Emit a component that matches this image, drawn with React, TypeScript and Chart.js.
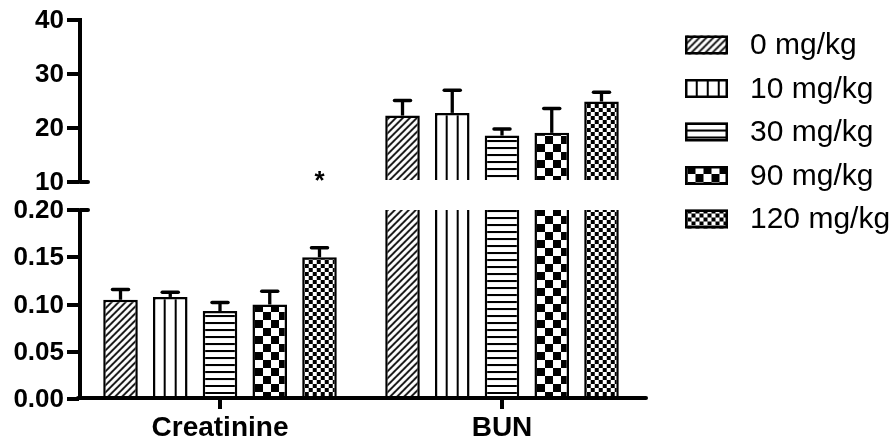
import { useEffect, useRef } from 'react';
import { Chart, registerables } from 'chart.js';

Chart.register(...registerables);

// Parameters on the x axis
const CATEGORIES = ['Creatinine', 'BUN'];
// Dose groups, one bar per dose in every parameter
const DOSES = ['0 mg/kg', '10 mg/kg', '30 mg/kg', '90 mg/kg', '120 mg/kg'];
// Serum creatinine: mean and error per dose
const CREATININE = [0.105, 0.108, 0.093, 0.1, 0.15];
const CREATININE_ERR = [0.011, 0.005, 0.009, 0.014, 0.01];
// Blood urea nitrogen: mean and error per dose
const BUN = [22.3, 22.8, 18.6, 19.1, 24.9];
const BUN_ERR = [2.8, 4.2, 1.2, 4.5, 1.7];
// Ticks of the two segments of the broken y axis
const LOWER_TICKS = [0, 0.05, 0.1, 0.15, 0.2];
const UPPER_TICKS = [10, 20, 30, 40];
// Significance marks: parameter index, dose index, symbol
const SIGNIFICANCE = [{ category: 0, dose: 4, mark: '*' }];

// ---- styling / layout ----
const FONT = "'Liberation Sans', Arial, Helvetica, sans-serif";
const FILLS = ['diagonal', 'vertical', 'horizontal', 'checker', 'fineChecker'];
const BORDER = 2.5;
const AXIS_W = 4;
const UPPER_PX = 162; // height of the 10..40 segment
const LOWER_PX = 189; // height of the 0..0.20 segment
const GAP_PX = 28; // empty band at the axis break

const LOWER_MIN = LOWER_TICKS[0];
const LOWER_TOP = LOWER_TICKS[LOWER_TICKS.length - 1];
const UPPER_BASE = UPPER_TICKS[0];
const UPPER_MAX = UPPER_TICKS[UPPER_TICKS.length - 1];
const UPPER_MIN = UPPER_BASE - ((UPPER_MAX - UPPER_BASE) * (GAP_PX / 2)) / UPPER_PX;
const LOWER_MAX = LOWER_TOP + ((LOWER_TOP - LOWER_MIN) * (GAP_PX / 2)) / LOWER_PX;

const tileCache: Record<string, HTMLCanvasElement> = {};

function makeTile(kind: string): HTMLCanvasElement {
  const cached = tileCache[kind];
  if (cached) return cached;
  const c = document.createElement('canvas');
  const g = c.getContext('2d') as CanvasRenderingContext2D;
  const size = (w: number, h: number) => {
    c.width = w;
    c.height = h;
    g.fillStyle = '#fff';
    g.fillRect(0, 0, w, h);
    g.fillStyle = '#000';
  };
  if (kind === 'diagonal') {
    const s = 7;
    size(s, s);
    g.strokeStyle = '#000';
    g.lineWidth = 1.8;
    g.beginPath();
    for (const o of [-s, 0, s]) {
      g.moveTo(o - 1, s + 1);
      g.lineTo(o + s + 1, -1);
    }
    g.stroke();
  } else if (kind === 'vertical') {
    size(11, 4);
    g.fillRect(0, 0, 2, 4);
  } else if (kind === 'horizontal') {
    size(4, 7);
    g.fillRect(0, 0, 4, 2);
  } else if (kind === 'checker') {
    size(16, 16);
    g.fillRect(0, 0, 8, 8);
    g.fillRect(8, 8, 8, 8);
  } else {
    size(8, 8);
    g.fillRect(0, 0, 4, 4);
    g.fillRect(4, 4, 4, 4);
  }
  tileCache[kind] = c;
  return c;
}

// Pattern anchored at the left edge of the box it fills
function patternAt(g: CanvasRenderingContext2D, kind: string, left: number, top: number) {
  const p = g.createPattern(makeTile(kind), 'repeat') as CanvasPattern;
  const dx = kind === 'vertical' ? left + 10.7 : left + BORDER;
  p.setTransform(new DOMMatrix([1, 0, 0, 1, dx, top]));
  return p;
}

function barFill(c: any, kind: string) {
  const el = c.element;
  const left = el && Number.isFinite(el.x) && Number.isFinite(el.width) ? el.x - el.width / 2 : 0;
  return patternAt(c.chart.ctx, kind, left, 0);
}

const lowerSets = DOSES.map((dose, i) => ({
  label: dose,
  data: [CREATININE[i], Math.min(BUN[i], LOWER_TOP)],
  yAxisID: 'yLow',
  stack: 'dose' + i,
  backgroundColor: (c: any) => barFill(c, FILLS[i]),
  borderColor: '#000',
  // the BUN bar continues above the break: no lid on the lower piece
  borderWidth: (c: any) =>
    c.dataIndex === 1 && BUN[i] > LOWER_TOP
      ? { left: BORDER, right: BORDER, top: 0, bottom: 0 }
      : BORDER,
}));

const upperSets = DOSES.map((dose, i) => ({
  label: dose,
  data: [null, BUN[i]],
  yAxisID: 'yHigh',
  stack: 'dose' + i,
  base: UPPER_BASE,
  backgroundColor: (c: any) => barFill(c, FILLS[i]),
  borderColor: '#000',
  borderWidth: BORDER,
}));

function drawErrorBar(g: CanvasRenderingContext2D, el: any, top: number, scale: any) {
  if (!el || !Number.isFinite(el.x)) return;
  const y1 = scale.getPixelForValue(top);
  g.lineCap = 'butt';
  g.lineWidth = 3.3;
  g.beginPath();
  g.moveTo(el.x, el.y);
  g.lineTo(el.x, y1);
  g.stroke();
  g.lineCap = 'round';
  g.lineWidth = 3.5;
  g.beginPath();
  g.moveTo(el.x - 8, y1);
  g.lineTo(el.x + 8, y1);
  g.stroke();
}

const decorations = {
  id: 'decorations',
  afterDatasetsDraw(chart: any) {
    const g: CanvasRenderingContext2D = chart.ctx;
    const { yLow, yHigh } = chart.scales;
    const area = chart.chartArea;
    g.save();
    g.strokeStyle = '#000';
    g.fillStyle = '#000';

    // error bars (upper half only)
    DOSES.forEach((_, i) => {
      drawErrorBar(g, chart.getDatasetMeta(i).data[0], CREATININE[i] + CREATININE_ERR[i], yLow);
      drawErrorBar(g, chart.getDatasetMeta(DOSES.length + i).data[1], BUN[i] + BUN_ERR[i], yHigh);
    });

    // broken y axis
    const ax = area.left + 1;
    const breakHigh = yHigh.getPixelForValue(UPPER_BASE);
    const breakLow = yLow.getPixelForValue(LOWER_TOP);
    g.lineWidth = AXIS_W;
    g.lineCap = 'butt';
    g.beginPath();
    g.moveTo(ax, yHigh.getPixelForValue(UPPER_MAX) - AXIS_W / 2);
    g.lineTo(ax, breakHigh);
    g.moveTo(ax, breakLow);
    g.lineTo(ax, area.bottom);
    g.stroke();
    g.lineCap = 'round';
    g.beginPath();
    g.moveTo(ax, breakHigh);
    g.lineTo(ax + 8, breakHigh);
    g.moveTo(ax, breakLow);
    g.lineTo(ax + 8, breakLow);
    g.stroke();

    // x axis
    g.beginPath();
    g.moveTo(area.left - 1, area.bottom - 1);
    g.lineTo(area.right + 3, area.bottom - 1);
    g.stroke();

    // significance marks
    g.font = `bold 26px ${FONT}`;
    g.textAlign = 'center';
    g.textBaseline = 'alphabetic';
    SIGNIFICANCE.forEach((s) => {
      const el = chart.getDatasetMeta(s.dose).data[s.category];
      if (el) g.fillText(s.mark, el.x, breakHigh + 7);
    });

    // legend
    const lx = area.right + 42;
    const boxW = 43;
    const boxH = 19;
    g.textAlign = 'left';
    g.textBaseline = 'middle';
    g.font = `30px ${FONT}`;
    DOSES.forEach((dose, i) => {
      const cy = 45 + i * 43.5;
      const top = cy - boxH / 2;
      g.fillStyle = patternAt(g, FILLS[i], lx, top);
      g.fillRect(lx, top, boxW, boxH);
      g.lineWidth = BORDER;
      g.lineCap = 'butt';
      g.strokeRect(lx + BORDER / 2, top + BORDER / 2, boxW - BORDER, boxH - BORDER);
      g.fillStyle = '#000';
      g.fillText(dose, lx + 65, cy + 1);
    });
    g.restore();
  },
};

const yTicks = (fmt: (v: number) => string) => ({
  color: '#000',
  padding: 3,
  labelOffset: 1,
  autoSkip: false,
  font: { family: FONT, size: 26, weight: 'bold' as const },
  callback: (v: any) => fmt(Number(v)),
});

const yGrid = {
  drawOnChartArea: false,
  tickLength: 12,
  tickWidth: AXIS_W,
  lineWidth: AXIS_W,
  tickColor: '#000',
  color: '#000',
};

export default function App() {
  const ref = useRef<HTMLCanvasElement>(null);

  useEffect(() => {
    const canvas = ref.current;
    if (!canvas) return;
    const chart = new Chart(canvas, {
      type: 'bar',
      data: { labels: CATEGORIES, datasets: [...lowerSets, ...upperSets] as any },
      plugins: [decorations],
      options: {
        responsive: false,
        animation: false,
        events: [],
        categoryPercentage: 0.882,
        barPercentage: 0.695,
        layout: { padding: { top: 20, right: 253, bottom: 0, left: 0 } },
        plugins: { legend: { display: false }, tooltip: { enabled: false } },
        scales: {
          x: {
            type: 'category',
            offset: true,
            border: { display: false },
            grid: {
              offset: false,
              drawOnChartArea: false,
              tickLength: 10,
              tickWidth: AXIS_W,
              lineWidth: AXIS_W,
              tickColor: '#000',
              color: '#000',
            },
            ticks: {
              color: '#000',
              padding: 2,
              maxRotation: 0,
              autoSkip: false,
              font: { family: FONT, size: 28, weight: 'bold' },
            },
            afterFit: (s: any) => {
              s.height = 45;
            },
          },
          yHigh: {
            type: 'linear',
            position: 'left',
            stack: 'value',
            stackWeight: UPPER_PX + GAP_PX / 2,
            weight: 1,
            min: UPPER_MIN,
            max: UPPER_MAX,
            border: { display: false },
            grid: yGrid,
            ticks: yTicks((v) => String(v)),
            afterBuildTicks: (s: any) => {
              s.ticks = UPPER_TICKS.map((value) => ({ value }));
            },
            afterFit: (s: any) => {
              s.width = 79;
            },
          },
          yLow: {
            type: 'linear',
            position: 'left',
            stack: 'value',
            stackWeight: LOWER_PX + GAP_PX / 2,
            weight: 0,
            min: LOWER_MIN,
            max: LOWER_MAX,
            border: { display: false },
            grid: yGrid,
            ticks: yTicks((v) => v.toFixed(2)),
            afterBuildTicks: (s: any) => {
              s.ticks = LOWER_TICKS.map((value) => ({ value }));
            },
            afterFit: (s: any) => {
              s.width = 79;
            },
          },
        },
      } as any,
    });
    // second pass: patterns are anchored to the bar positions laid out in the first
    chart.update();
    return () => chart.destroy();
  }, []);

  return (
    <div style={{ position: 'absolute', left: 0, top: 0, width: 896, height: 444, background: '#fff' }}>
      <canvas ref={ref} width={896} height={444} style={{ display: 'block', width: 896, height: 444 }} />
    </div>
  );
}
